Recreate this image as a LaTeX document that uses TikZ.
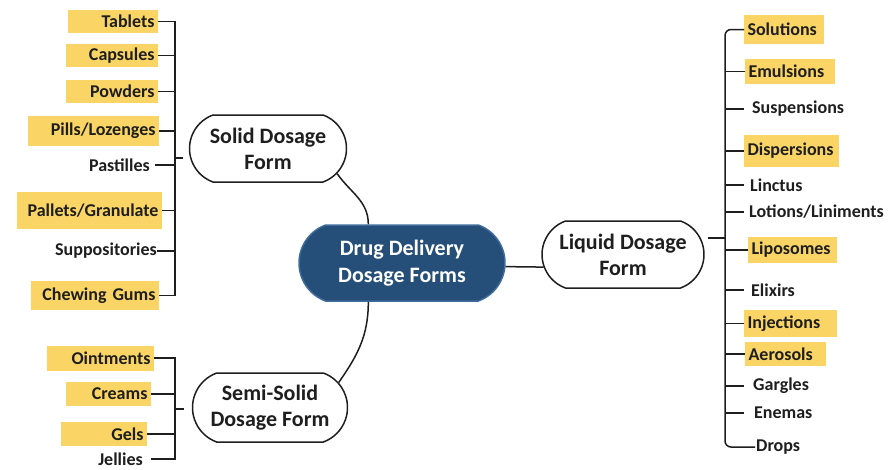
\documentclass[tikz,border=0pt]{standalone}
\usepackage{fontspec}
\setmainfont{Carlito}
\usetikzlibrary{shapes.misc}
\definecolor{hly}{RGB}{250,213,102}
\definecolor{ddblue}{RGB}{37,78,120}
\definecolor{ddedge}{RGB}{62,108,155}
\definecolor{ink}{RGB}{30,30,30}
\tikzset{
  leaf/.style={font=\fontsize{18}{20}\selectfont\bfseries, text=ink, inner ysep=0pt},
  hl/.style={leaf, fill=hly, text width=#1, align=right, anchor=east},
  hr/.style={leaf, fill=hly, text width=#1, align=left, anchor=west},
  form/.style={rounded rectangle, rounded rectangle arc length=140, draw=ink, line width=1.5pt,
    fill=white, align=center, font=\fontsize{22}{26}\selectfont\bfseries, text=ink, inner sep=0pt},
  link/.style={draw=ink, line width=1.5pt},
}
\begin{document}
\begin{tikzpicture}[x=1pt,y=1pt]
\useasboundingbox (0,0) rectangle (890,-469);

\node (ddf) at (402,-263) [form, fill=ddblue, draw=ddedge, text=white, minimum width=206pt, minimum height=76pt, font=\fontsize{22}{27}\selectfont\bfseries] {Drug Delivery\\Dosage Forms};
\node (solid) at (268,-148.5) [form, minimum width=157pt, minimum height=67pt] {Solid Dosage\\Form};
\node (semi) at (270,-407.5) [form, minimum width=155pt, minimum height=69pt] {Semi-Solid\\Dosage Form};
\node (liq) at (623,-254.5) [form, minimum width=162pt, minimum height=67pt] {Liquid Dosage\\Form};

\draw[link]
(solid.-20) to[out=-55,in=90] (ddf.131)
(ddf.229) to[out=-90,in=55] (semi.20)
(ddf.-2) -- (liq.189);

% solid forms
\node (tab) at (158,-21.5) [hl=83pt, minimum height=23pt] {Tablets};
\node (cap) at (158,-55.5) [hl=85pt, minimum height=23pt] {Capsules};
\node (pow) at (158,-91.5) [hl=85pt, minimum height=23pt] {Powders};
\node (pil) at (159,-131) [hl=124pt, minimum height=30pt] {Pills/Lozenges};
\node (pas) at (155,-165) [leaf, anchor=east, inner xsep=5pt] {Pastilles};
\node (pal) at (162,-210.5) [hl=138pt, minimum height=37pt] {Pallets/Granulate};
\node (sup) at (157,-251) [leaf, anchor=east, inner xsep=0pt] {Suppositories};
\node (chw) at (159,-295.5) [hl=121pt, minimum height=29pt] {Chewing Gums};
\coordinate (lb) at (175,0);
\coordinate (lt) at (175,-158);
\coordinate (ltt) at (183,-158);

\draw[link]
(tab.east) -- (tab.east -| lb) -- (chw.east -| lb) -- (chw.east)
(cap.east) -- (cap.east -| lb)
(pow.east) -- (pow.east -| lb)
(pil.east) -- (pil.east -| lb)
(pas.east) -- (pas.east -| lb)
(pal.east) -- (pal.east -| lb)
(sup.east) -- (sup.east -| lb)
(lt) -- (ltt);

% semi-solid forms
\node (ont) at (154,-358) [hl=100pt, minimum height=25pt] {Ointments};
\node (crm) at (151,-394) [hl=78pt, minimum height=24pt] {Creams};
\node (gel) at (147,-434) [hl=79pt, minimum height=24pt] {Gels};
\node (jel) at (151,-459) [leaf, anchor=east, inner xsep=8pt] {Jellies};
\coordinate (st) at (175,-409);
\coordinate (stt) at (184,-409);

\draw[link]
(ont.east) -- (ont.east -| lb) -- (jel.east -| lb) -- (jel.east)
(crm.east) -- (crm.east -| lb)
(gel.east) -- (gel.east -| lb)
(st) -- (stt);

% liquid forms
\node (sol) at (744,-29.5) [hr=73pt, minimum height=29pt] {Solutions};
\node (emu) at (745,-71.5) [hr=83pt, minimum height=25pt] {Emulsions};
\node (sus) at (744,-109) [leaf, anchor=west, inner xsep=8pt] {Suspensions};
\node (dis) at (744,-151) [hr=88pt, minimum height=32pt] {Dispersions};
\node (lin) at (744,-185) [leaf, anchor=west, inner xsep=6pt] {Linctus};
\node (lot) at (744,-212) [leaf, anchor=west, inner xsep=5pt] {Lotions/Liniments};
\node (lip) at (748,-250) [hr=82pt, minimum height=26pt] {Liposomes};
\node (eli) at (744,-290) [leaf, anchor=west, inner xsep=7pt] {Elixirs};
\node (inj) at (744,-323.5) [hr=86pt, minimum height=27pt] {Injections};
\node (aer) at (745,-354) [hr=74pt, minimum height=24pt] {Aerosols};
\node (gar) at (744,-386) [leaf, anchor=west, inner xsep=9pt] {Gargles};
\node (ene) at (744,-413) [leaf, anchor=west, inner xsep=10pt] {Enemas};
\node (drp) at (755,-447) [leaf, anchor=west, inner xsep=1pt] {Drops};
\coordinate (rb) at (725,0);
\coordinate (rt) at (725,-238);
\coordinate (rtt) at (708,-238);

\draw[link, rounded corners=6pt]
(sol.west) -- (sol.west -| rb) -- (drp.west -| rb) -- (drp.west);
\draw[link]
(emu.west -| rb) -- (emu.west)
(sus.west -| rb) -- (sus.west)
(dis.west -| rb) -- (dis.west)
(lin.west -| rb) -- (lin.west)
(lot.west -| rb) -- (lot.west)
(lip.west -| rb) -- (lip.west)
(eli.west -| rb) -- (eli.west)
(inj.west -| rb) -- (inj.west)
(aer.west -| rb) -- (aer.west)
(gar.west -| rb) -- (gar.west)
(ene.west -| rb) -- (ene.west)
(rt) -- (rtt);
\end{tikzpicture}
\end{document}
